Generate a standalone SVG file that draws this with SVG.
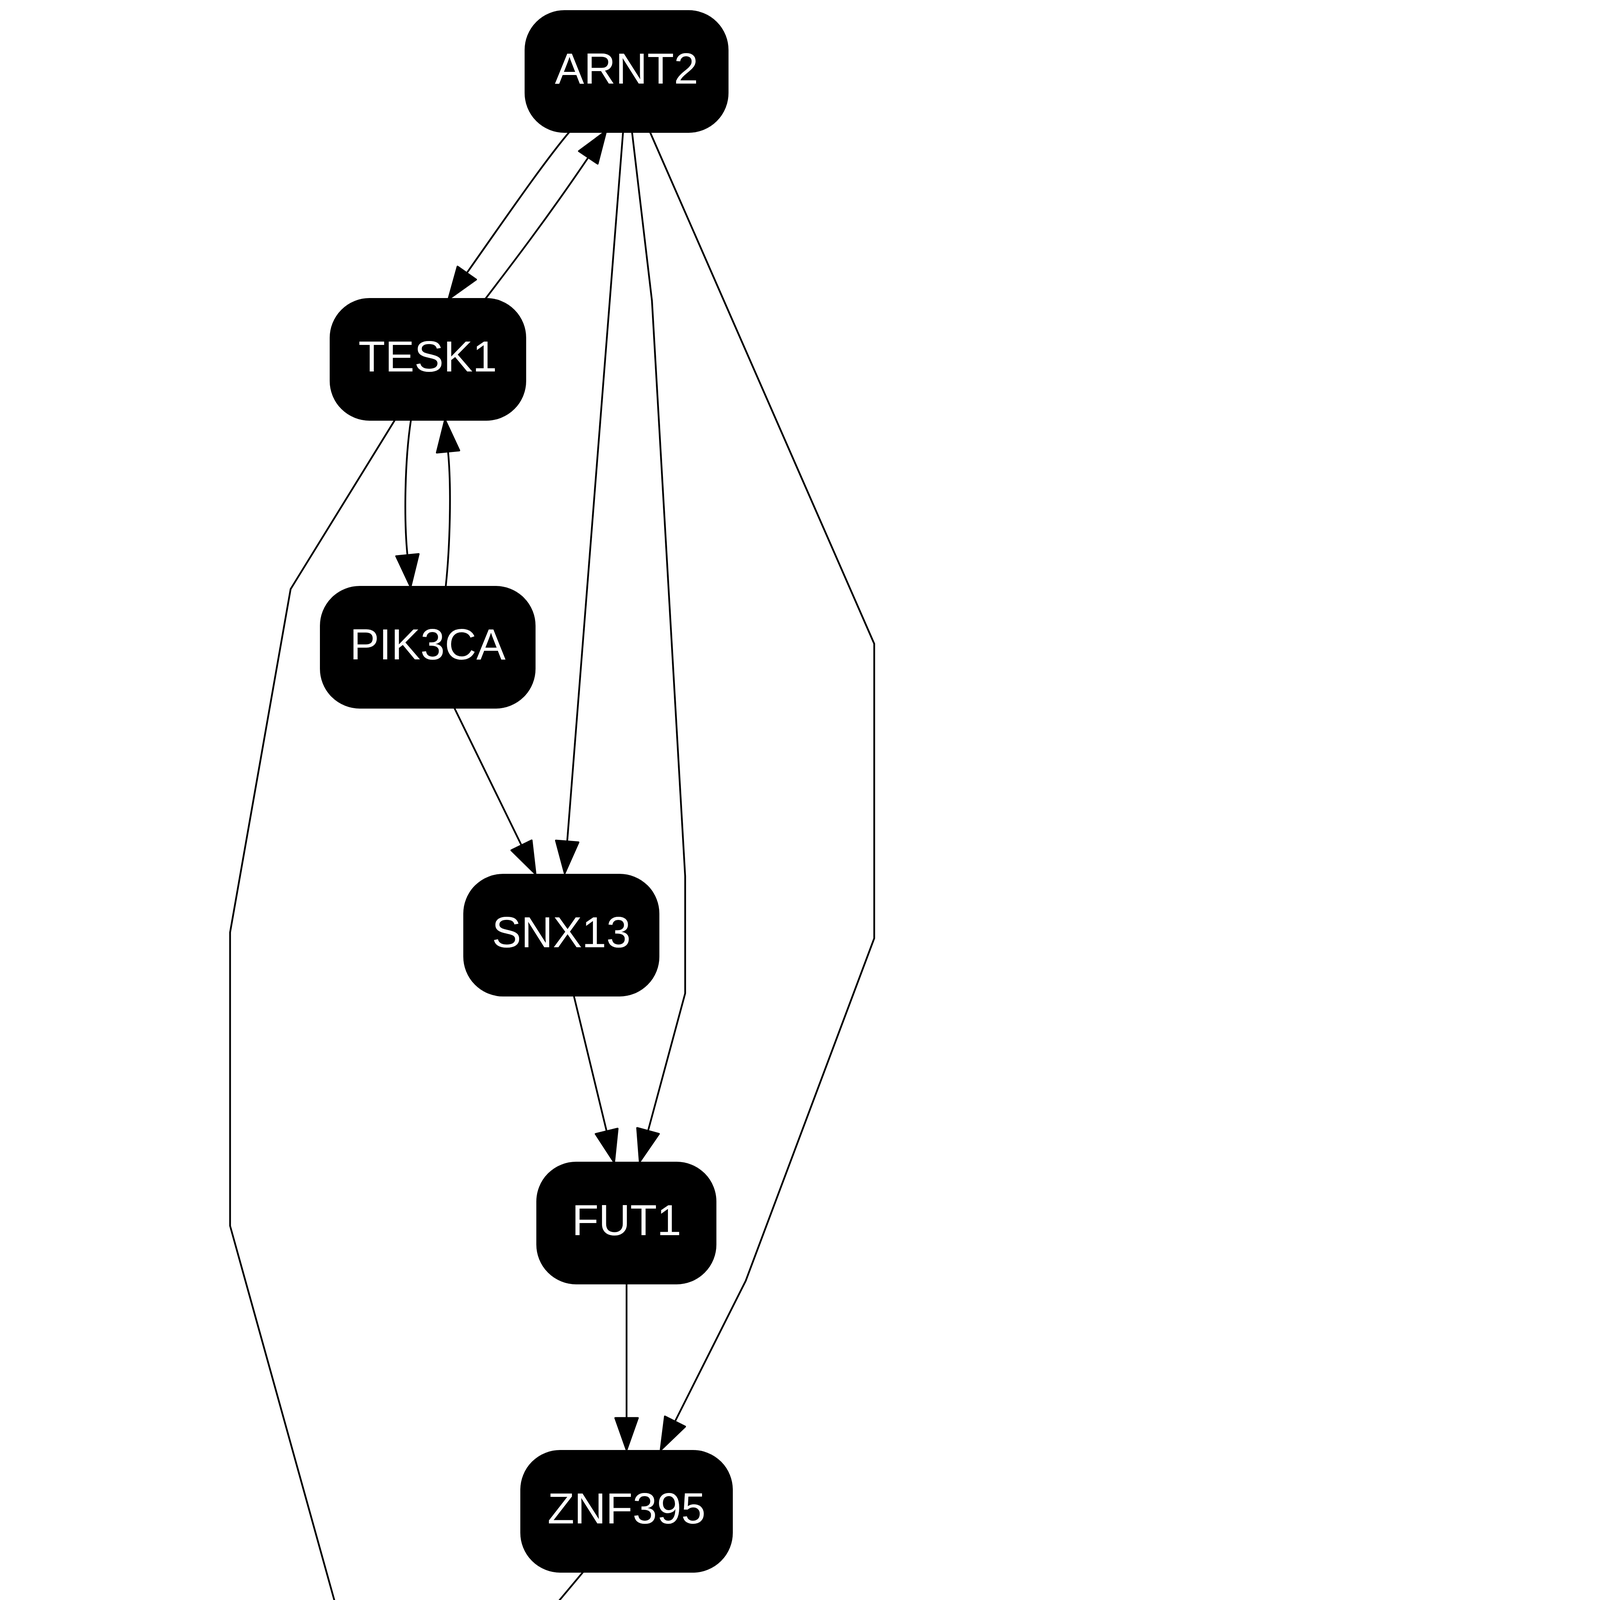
<svg xmlns="http://www.w3.org/2000/svg" width="4171" height="7137" viewBox="0 0 4171 7137">
<style>
.n rect{fill:#000;stroke:#000;stroke-width:4}
.n text{fill:#fff;font-family:"Liberation Sans",Arial,Helvetica,sans-serif;font-size:112px;text-anchor:middle}
.e path{fill:none;stroke:#000;stroke-width:4.5;marker-end:url(#ah)}
</style>
<defs>
<marker id="ah" markerUnits="userSpaceOnUse" markerWidth="100" markerHeight="80" refX="0" refY="31" orient="auto" overflow="visible">
<path d="M0,2 L82,31 L0,60 Z" fill="#000" stroke="#000" stroke-width="4.5" stroke-linejoin="round"/>
</marker>
</defs>
<rect width="4171" height="7137" fill="#fff"/>
<g id="edges" class="e">
<path d="M1460,335 C1400,405 1310,535 1195,699"/>
<path d="M1241,767 C1300,690 1400,560 1506,403"/>
<path d="M1595,338 L1452,2154"/>
<path d="M1618,338 L1669,770 L1754,2243 L1754,2543 L1659,2895"/>
<path d="M1664,338 L2238,1648 L2238,2402 L1909,3279 L1728,3639"/>
<path d="M1011,1075 L744,1508 L589,2387 L589,3138 L932,4370"/>
<path d="M1052,1075 C1036,1180 1034,1330 1043,1421"/>
<path d="M1141,1502 C1152,1400 1156,1250 1147,1156"/>
<path d="M1163,1812 L1335,2164"/>
<path d="M1469,2549 L1553,2896"/>
<path d="M1604,3286 L1604,3630"/>
<path d="M1493,4024 L1189,4387"/>
<path d="M1012,4761 L1012,5104"/>
<path d="M1710,4761 C1700,4860 1698,5010 1704,5104"/>
<path d="M1806,5188 C1816,5090 1818,4940 1811,4845"/>
<path d="M1882,4761 L2195,5124"/>
<path d="M3643,4761 L3251,5130"/>
<path d="M3750,4761 C3740,4860 3738,5010 3744,5104"/>
<path d="M3842,5188 C3852,5090 3854,4940 3847,4845"/>
<path d="M439,5498 L760,5862"/>
<path d="M951,5498 C930,5600 910,5740 906,5841"/>
<path d="M995,5925 C1015,5830 1035,5680 1040,5582"/>
<path d="M1265,5490 L2049,5936"/>
<path d="M2509,5498 L2834,5862"/>
<path d="M2893,5498 L2529,5865"/>
<path d="M2977,5498 C2966,5600 2964,5740 2970,5841"/>
<path d="M3073,5925 C3083,5830 3085,5680 3079,5582"/>
<path d="M1708,6235 L1830,6482"/>
<path d="M2270,6235 L2146,6482"/>
</g>
<g id="ARNT2" class="n"><rect x="1345" y="28" width="518" height="310" rx="100"/><text x="1604" y="214">ARNT2</text></g>
<g id="TESK1" class="n"><rect x="846" y="765" width="499" height="310" rx="100"/><text x="1095" y="951">TESK1</text></g>
<g id="PIK3CA" class="n"><rect x="821" y="1502" width="548" height="310" rx="100"/><text x="1095" y="1688">PIK3CA</text></g>
<g id="SNX13" class="n"><rect x="1188" y="2239" width="498" height="310" rx="100"/><text x="1437" y="2425">SNX13</text></g>
<g id="FUT1" class="n"><rect x="1375" y="2976" width="457" height="310" rx="100"/><text x="1604" y="3162">FUT1</text></g>
<g id="ZNF395" class="n"><rect x="1334" y="3714" width="540" height="310" rx="100"/><text x="1604" y="3900">ZNF395</text></g>
<g id="PTPRF" class="n"><rect x="755" y="4451" width="515" height="310" rx="100"/><text x="1012" y="4637">PTPRF</text></g>
<g id="CCNA2" class="n"><rect x="1493" y="4451" width="525" height="310" rx="100"/><text x="1755" y="4637">CCNA2</text></g>
<g id="NOLC1" class="n"><rect x="3530" y="4451" width="526" height="310" rx="100"/><text x="3793" y="4637">NOLC1</text></g>
<g id="NFATC4" class="n"><rect x="29" y="5188" width="583" height="310" rx="100"/><text x="320" y="5374">NFATC4</text></g>
<g id="PRPF4" class="n"><rect x="758" y="5188" width="507" height="310" rx="100"/><text x="1012" y="5374">PRPF4</text></g>
<g id="BIRC5" class="n"><rect x="1520" y="5188" width="482" height="310" rx="100"/><text x="1761" y="5374">BIRC5</text></g>
<g id="SMC4" class="n"><rect x="2144" y="5188" width="468" height="310" rx="100"/><text x="2378" y="5374">SMC4</text></g>
<g id="HSPD1" class="n"><rect x="2762" y="5188" width="526" height="310" rx="100"/><text x="3025" y="5374">HSPD1</text></g>
<g id="EBNA1BP2" class="n"><rect x="3432" y="5188" width="718" height="310" rx="100"/><text x="3791" y="5374">EBNA1BP2</text></g>
<g id="GLI2" class="n"><rect x="712" y="5925" width="453" height="310" rx="100"/><text x="938" y="6111">GLI2</text></g>
<g id="PPP2R3C" class="n"><rect x="1311" y="5925" width="658" height="310" rx="100"/><text x="1640" y="6111">PPP2R3C</text></g>
<g id="RAE1" class="n"><rect x="2118" y="5925" width="457" height="310" rx="100"/><text x="2346" y="6111">RAE1</text></g>
<g id="TCERG1" class="n"><rect x="2721" y="5925" width="612" height="310" rx="100"/><text x="3027" y="6111">TCERG1</text></g>
<g id="DDR1"><circle cx="1988" cy="6817" r="290" fill="#ff0000" stroke="#000" stroke-width="6"/><text x="1988" y="6848" fill="#fff" font-family="Liberation Sans, Arial, Helvetica, sans-serif" font-size="112" text-anchor="middle">DDR1</text></g>
</svg>
